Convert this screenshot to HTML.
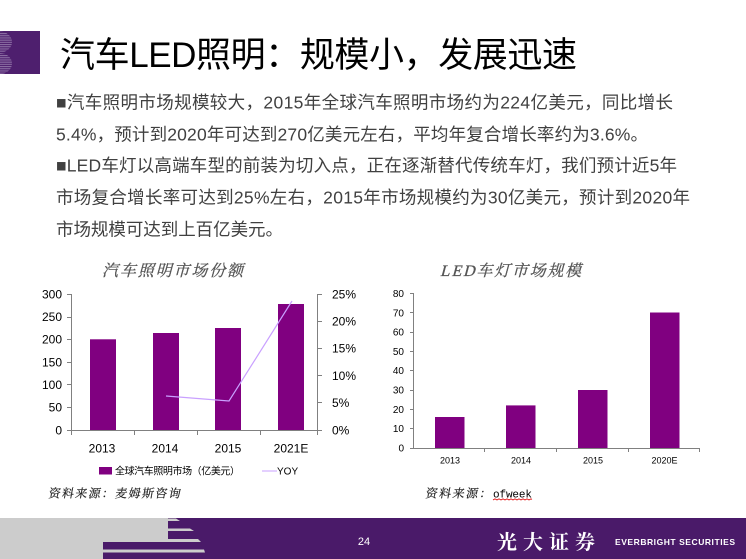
<!DOCTYPE html>
<html><head><meta charset="utf-8">
<style>
html,body{margin:0;padding:0;background:#fff;}
svg{display:block;}
</style></head>
<body>
<svg width="746" height="559" viewBox="0 0 746 559" xmlns="http://www.w3.org/2000/svg">
<defs>
<pattern id="stripes" width="4" height="2.2" patternUnits="userSpaceOnUse">
<rect x="0" y="0" width="4" height="1.1" fill="#8c6fa4"/>
</pattern>
<clipPath id="bclip"><ellipse cx="0" cy="42" rx="12" ry="10.5"/><ellipse cx="0" cy="63.5" rx="12" ry="10.5"/></clipPath>
</defs>
<rect width="746" height="559" fill="#fff"/>

<!-- logo square -->
<rect x="0" y="31" width="40" height="43" fill="#4e1f6e"/>
<rect x="0" y="31" width="14" height="43" fill="url(#stripes)" clip-path="url(#bclip)"/>

<!-- title -->
<text x="60" y="67" font-size="35" font-family="'Liberation Sans','Noto Sans CJK SC',sans-serif" fill="#000" textLength="517" lengthAdjust="spacing">汽车LED照明：规模小，发展迅速</text>

<!-- body text -->
<g font-size="17.5" font-family="'Liberation Sans','Noto Sans CJK SC',sans-serif" fill="#404040">
<text x="56" y="108.5" textLength="617" lengthAdjust="spacing">■汽车照明市场规模较大，2015年全球汽车照明市场约为224亿美元，同比增长</text>
<text x="56" y="140.5" textLength="592" lengthAdjust="spacing">5.4%，预计到2020年可达到270亿美元左右，平均年复合增长率约为3.6%。</text>
<text x="56" y="171.5" textLength="621" lengthAdjust="spacing">■LED车灯以高端车型的前装为切入点，正在逐渐替代传统车灯，我们预计近5年</text>
<text x="56" y="203.5" textLength="634" lengthAdjust="spacing">市场复合增长率可达到25%左右，2015年市场规模约为30亿美元，预计到2020年</text>
<text x="56" y="235.5" textLength="227" lengthAdjust="spacing">市场规模可达到上百亿美元。</text>
</g>

<!-- ============ Chart 1 ============ -->
<g transform="translate(102,276) skewX(-15)">
<text x="0" y="0" font-size="16" font-family="'Liberation Serif','Noto Serif CJK SC',serif" fill="#555" stroke="#555" stroke-width="0.3" textLength="141" lengthAdjust="spacing">汽车照明市场份额</text>
</g>

<!-- bars -->
<g fill="#800080">
<rect x="90" y="339.3" width="26" height="90.7"/>
<rect x="153" y="333" width="26" height="97"/>
<rect x="215" y="328" width="26" height="102"/>
<rect x="278" y="304" width="26" height="126"/>
</g>
<!-- axes -->
<g stroke="#808080" stroke-width="1" fill="none" shape-rendering="crispEdges">
<line x1="71.5" y1="294" x2="71.5" y2="430"/>
<line x1="317.5" y1="294" x2="317.5" y2="430"/>
<line x1="71" y1="430.5" x2="318" y2="430.5"/>
<line x1="67" y1="294.5" x2="71" y2="294.5"/>
<line x1="67" y1="317.5" x2="71" y2="317.5"/>
<line x1="67" y1="339.5" x2="71" y2="339.5"/>
<line x1="67" y1="362.5" x2="71" y2="362.5"/>
<line x1="67" y1="384.5" x2="71" y2="384.5"/>
<line x1="67" y1="407.5" x2="71" y2="407.5"/>
<line x1="67" y1="430.5" x2="71" y2="430.5"/>
<line x1="318" y1="294.5" x2="322" y2="294.5"/>
<line x1="318" y1="321.5" x2="322" y2="321.5"/>
<line x1="318" y1="348.5" x2="322" y2="348.5"/>
<line x1="318" y1="375.5" x2="322" y2="375.5"/>
<line x1="318" y1="402.5" x2="322" y2="402.5"/>
<line x1="318" y1="430.5" x2="322" y2="430.5"/>
<line x1="71.5" y1="430" x2="71.5" y2="435"/>
<line x1="134.5" y1="430" x2="134.5" y2="435"/>
<line x1="197.5" y1="430" x2="197.5" y2="435"/>
<line x1="260.5" y1="430" x2="260.5" y2="435"/>
<line x1="317.5" y1="430" x2="317.5" y2="435"/>
</g>
<!-- YOY line -->
<polyline points="166,396 229,401 292,301" fill="none" stroke="#c9a0ff" stroke-width="1.2"/>

<g font-size="12" font-family="'Liberation Sans',sans-serif" fill="#000">
<g text-anchor="end">
<text x="62" y="298.3">300</text>
<text x="62" y="321">250</text>
<text x="62" y="343.6">200</text>
<text x="62" y="366.3">150</text>
<text x="62" y="389">100</text>
<text x="62" y="411.6">50</text>
<text x="62" y="434.3">0</text>
</g>
<text x="332" y="298.3">25%</text>
<text x="332" y="325.5">20%</text>
<text x="332" y="352.7">15%</text>
<text x="332" y="379.9">10%</text>
<text x="332" y="407.1">5%</text>
<text x="332" y="434.3">0%</text>
<g text-anchor="middle">
<text x="102" y="452.5">2013</text>
<text x="165" y="452.5">2014</text>
<text x="228" y="452.5">2015</text>
<text x="291" y="452.5">2021E</text>
</g>
</g>
<!-- legend -->
<rect x="99" y="467" width="13" height="7.5" fill="#800080"/>
<text x="115" y="474.5" font-size="10" font-family="'Liberation Sans','Noto Sans CJK SC',sans-serif" fill="#000" textLength="125" lengthAdjust="spacing">全球汽车照明市场（亿美元）</text>
<line x1="262" y1="471" x2="277" y2="471" stroke="#c9a0ff" stroke-width="1"/>
<text x="277" y="474.5" font-size="10" font-family="'Liberation Sans',sans-serif" fill="#000">YOY</text>
<!-- source -->
<g transform="translate(48,497.5) skewX(-10)">
<text x="0" y="0" font-size="12" font-family="'Liberation Serif','Noto Serif CJK SC',serif" fill="#222" stroke="#222" stroke-width="0.2" textLength="132" lengthAdjust="spacing">资料来源：麦姆斯咨询</text>
</g>

<!-- ============ Chart 2 ============ -->
<g transform="translate(440,276) skewX(-15)">
<text x="0" y="0" font-size="16" font-family="'Liberation Serif','Noto Serif CJK SC',serif" fill="#555" stroke="#555" stroke-width="0.3" textLength="141" lengthAdjust="spacing">LED车灯市场规模</text>
</g>

<g fill="#800080">
<rect x="435" y="417" width="29.5" height="31"/>
<rect x="506" y="405.4" width="29.5" height="42.6"/>
<rect x="578" y="390" width="29.5" height="58"/>
<rect x="650" y="312.5" width="29.5" height="135.5"/>
</g>
<g stroke="#808080" stroke-width="1" fill="none" shape-rendering="crispEdges">
<line x1="413.5" y1="293" x2="413.5" y2="448"/>
<line x1="413" y1="448.5" x2="700" y2="448.5"/>
<line x1="410" y1="293.5" x2="413" y2="293.5"/>
<line x1="410" y1="312.5" x2="413" y2="312.5"/>
<line x1="410" y1="332.5" x2="413" y2="332.5"/>
<line x1="410" y1="351.5" x2="413" y2="351.5"/>
<line x1="410" y1="370.5" x2="413" y2="370.5"/>
<line x1="410" y1="390.5" x2="413" y2="390.5"/>
<line x1="410" y1="409.5" x2="413" y2="409.5"/>
<line x1="410" y1="428.5" x2="413" y2="428.5"/>
<line x1="410" y1="448.5" x2="413" y2="448.5"/>
<line x1="484.5" y1="448" x2="484.5" y2="452"/>
<line x1="556.5" y1="448" x2="556.5" y2="452"/>
<line x1="628.5" y1="448" x2="628.5" y2="452"/>
<line x1="699.5" y1="448" x2="699.5" y2="452"/>
</g>
<g font-size="10" font-family="'Liberation Sans',sans-serif" fill="#000" text-anchor="end">
<text x="404" y="297">80</text>
<text x="404" y="316.3">70</text>
<text x="404" y="335.6">60</text>
<text x="404" y="354.9">50</text>
<text x="404" y="374.2">40</text>
<text x="404" y="393.6">30</text>
<text x="404" y="412.9">20</text>
<text x="404" y="432.2">10</text>
<text x="404" y="451.5">0</text>
</g>
<g font-size="9" font-family="'Liberation Sans',sans-serif" fill="#000" text-anchor="middle">
<text x="450" y="463.3">2013</text>
<text x="521" y="463.3">2014</text>
<text x="593" y="463.3">2015</text>
<text x="664.5" y="463.3">2020E</text>
</g>
<g transform="translate(425,497.5) skewX(-10)">
<text x="0" y="0" font-size="12" font-family="'Liberation Serif','Noto Serif CJK SC',serif" fill="#222" stroke="#222" stroke-width="0.2" textLength="66" lengthAdjust="spacing">资料来源：</text>
</g>
<text x="493" y="497.5" font-size="11" font-family="'Liberation Mono',monospace" fill="#000" textLength="39" lengthAdjust="spacing">ofweek</text>
<polyline points="493,500 495,498.8 497,500 499,498.8 501,500 503,498.8 505,500 507,498.8 509,500 511,498.8 513,500 515,498.8 517,500 519,498.8 521,500 523,498.8 525,500 527,498.8 529,500 531,498.8 532,499.4" fill="none" stroke="#e00000" stroke-width="0.8"/>

<!-- ============ Footer ============ -->
<rect x="0" y="518" width="746" height="41" fill="#4a1a69"/>
<rect x="0" y="518" width="168" height="23" fill="#cccccc"/>
<rect x="0" y="541" width="103" height="18" fill="#cccccc"/>
<polygon points="168,518.5 176,518.5 180,521 168,521" fill="#cccccc"/>
<polygon points="168,528.5 190,528.5 194,531 168,531" fill="#cccccc"/>
<polygon points="103,539 198,539 201,542 103,542" fill="#cccccc"/>
<polygon points="103,549.5 204,549.5 205,552.5 103,552.5" fill="#cccccc"/>

<text x="364" y="545" font-size="11" font-family="'Liberation Sans',sans-serif" fill="#fff" text-anchor="middle">24</text>
<text x="497" y="549" font-size="20" font-weight="bold" font-family="'Liberation Serif','Noto Serif CJK SC',serif" fill="#fff" textLength="98" lengthAdjust="spacing">光大证券</text>
<text x="615" y="545" font-size="8.5" font-weight="bold" font-family="'Liberation Sans',sans-serif" fill="#fff" textLength="120" lengthAdjust="spacing">EVERBRIGHT SECURITIES</text>
</svg>
</body></html>
